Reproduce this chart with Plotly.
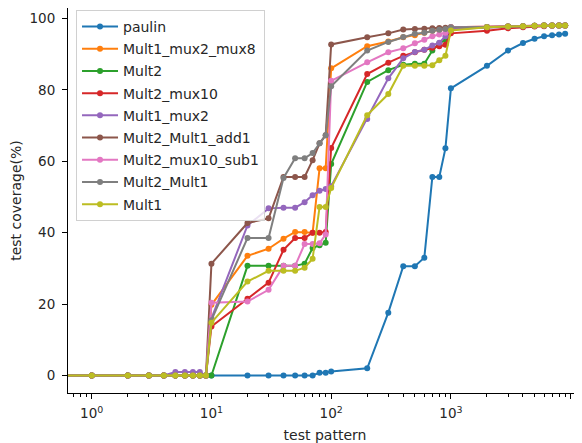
import plotly.graph_objects as go

# ---- data ----
test_pattern = [0, 1, 2, 3, 4, 5, 6, 7, 8, 9,
                10, 20, 30, 40, 50, 60, 70, 80, 90,
                100, 200, 300, 400, 500, 600, 700, 800, 900,
                1000, 2000, 3000, 4000, 5000, 6000, 7000, 8000, 9000]

zeros10 = [0, 0, 0, 0, 0, 0, 0, 0, 0, 0]

paulin = zeros10 + [0, 0, 0, 0, 0, 0, 0, 0.8, 0.8,
                    1.1, 2.0, 17.6, 30.6, 30.6, 33.0, 55.6, 55.6, 63.6,
                    80.4, 86.7, 91.0, 93.1, 94.3, 95.0, 95.3, 95.5, 95.7]
mult1_mux2_mux8 = zeros10 + [19.8, 33.5, 35.5, 38.3, 40.2, 40.2, 40.0, 58.0, 58.0,
                             86.0, 92.2, 93.5, 94.7, 95.3, 96.0, 96.5, 96.8, 97.0,
                             97.5, 97.6, 97.7, 97.8, 97.9, 98.0, 98.0, 98.0, 98.0]
mult2 = zeros10 + [0, 30.7, 30.7, 30.7, 30.7, 31.3, 35.7, 36.5, 37.2,
                   59.2, 82.2, 85.5, 87.0, 87.3, 87.3, 91.0, 93.0, 94.0,
                   97.0, 97.5, 97.7, 97.8, 97.9, 98.0, 98.0, 98.0, 98.0]
mult2_mux10 = zeros10 + [13.7, 21.5, 26.0, 35.2, 38.5, 38.5, 40.0, 40.0, 40.2,
                         63.7, 84.4, 87.6, 89.5, 90.5, 91.2, 91.8, 92.2, 92.6,
                         95.8, 96.5, 97.2, 97.5, 97.7, 97.8, 97.9, 98.0, 98.0]
mult1_mux2 = [0, 0, 0, 0, 0, 1.0, 1.0, 1.0, 1.0, 0] + [16.0, 42.0, 46.8, 47.0, 47.0, 48.5, 50.5, 51.7, 52.2,
                                                       53.0, 71.8, 83.2, 88.8, 90.6, 91.2, 92.4, 93.2, 95.0,
                                                       97.0, 97.5, 97.7, 97.8, 97.9, 98.0, 98.0, 98.0, 98.0]
mult2_mult1_add1 = zeros10 + [31.3, 42.7, 44.0, 55.6, 55.6, 55.6, 60.3, 65.0, 67.3,
                              92.7, 94.7, 95.8, 96.9, 97.0, 97.1, 97.2, 97.3, 97.4,
                              97.5, 97.6, 97.7, 97.8, 97.9, 98.0, 98.0, 98.0, 98.0]
mult2_mux10_sub1 = zeros10 + [20.4, 20.7, 24.0, 30.7, 30.7, 36.8, 36.8, 37.0, 39.5,
                              82.5, 87.7, 90.5, 91.6, 93.0, 94.0, 95.0, 95.5, 96.0,
                              97.5, 97.6, 97.7, 97.8, 97.9, 98.0, 98.0, 98.0, 98.0]
mult2_mult1 = zeros10 + [15.5, 38.5, 38.5, 55.3, 60.8, 60.8, 62.3, 65.0, 67.3,
                         81.0, 91.0, 93.4, 94.8, 95.7, 96.0, 96.5, 96.8, 97.0,
                         97.5, 97.6, 97.7, 97.8, 97.9, 98.0, 98.0, 98.0, 98.0]
mult1 = zeros10 + [14.8, 26.3, 29.3, 29.3, 29.3, 30.2, 32.7, 47.2, 47.2,
                   52.5, 72.9, 78.8, 86.7, 86.7, 86.7, 86.9, 88.3, 89.5,
                   96.6, 97.5, 97.7, 97.8, 97.9, 98.0, 98.0, 98.0, 98.0]

series_names = ["paulin", "Mult1_mux2_mux8", "Mult2", "Mult2_mux10", "Mult1_mux2",
                "Mult2_Mult1_add1", "Mult2_mux10_sub1", "Mult2_Mult1", "Mult1"]
series_values = [paulin, mult1_mux2_mux8, mult2, mult2_mux10, mult1_mux2,
                 mult2_mult1_add1, mult2_mux10_sub1, mult2_mult1, mult1]
colors = ["#1f77b4", "#ff7f0e", "#2ca02c", "#d62728", "#9467bd",
          "#8c564b", "#e377c2", "#7f7f7f", "#bcbd22"]

x_tick_vals = [1, 10, 100, 1000, 10000]
x_tick_text = ["10<sup>0</sup>", "10<sup>1</sup>", "10<sup>2</sup>", "10<sup>3</sup>", "10<sup>4</sup>"]
y_tick_vals = [0, 20, 40, 60, 80, 100]

# x = 0 cannot be shown on a log axis; put it far left so the line runs to the spine
x_plot = [v if v > 0 else 1e-3 for v in test_pattern]

minor_vals = [m * 10 ** k for k in range(-1, 4) for m in range(2, 10)]

fig = go.Figure()
for i, (name, vals, col) in enumerate(zip(series_names, series_values, colors)):
    fig.add_trace(go.Scatter(
        x=x_plot, y=vals, name=name, mode="lines+markers",
        line=dict(color=col, width=2),
        marker=dict(color=col, size=6),
        legendgroup="g%d" % i,
    ))

font_col = "#262626"
fig.update_layout(
    width=574, height=435,
    margin=dict(l=60, r=0, t=0, b=50),
    paper_bgcolor="white", plot_bgcolor="white",
    font=dict(family="DejaVu Sans", size=14, color=font_col),
    showlegend=True,
    legend=dict(
        x=0.0156, y=0.995, xanchor="left", yanchor="top",
        bgcolor="rgba(255,255,255,0.8)", bordercolor="#d0d0d0", borderwidth=1,
        font=dict(size=14, color=font_col),
        tracegroupgap=1, itemwidth=36,
    ),
    xaxis=dict(
        type="log", range=[-0.198, 4.095],
        tickmode="array", tickvals=x_tick_vals, ticktext=x_tick_text,
        ticks="outside", ticklen=5, tickwidth=1, tickcolor="black",
        showline=True, linecolor="black", linewidth=1, mirror=True,
        showgrid=False, zeroline=False,
        minor=dict(tickmode="array", tickvals=minor_vals, ticks="outside",
                   ticklen=2.5, tickwidth=0.8, tickcolor="black", showgrid=False),
        ticklabelstandoff=3,
        title=dict(text="test pattern", standoff=10, font=dict(size=14)),
        tickfont=dict(size=13.5),
    ),
    yaxis=dict(
        range=[-4.9, 102.9],
        tickmode="array", tickvals=y_tick_vals,
        ticks="outside", ticklen=5, tickwidth=1, tickcolor="black",
        showline=True, linecolor="black", linewidth=1, mirror=False,
        showgrid=False, zeroline=False,
        ticklabelstandoff=4,
        title=dict(text="test coverage(%)", standoff=4, font=dict(size=14)),
        tickfont=dict(size=13.5),
    ),
)

fig.write_html("out.html")
